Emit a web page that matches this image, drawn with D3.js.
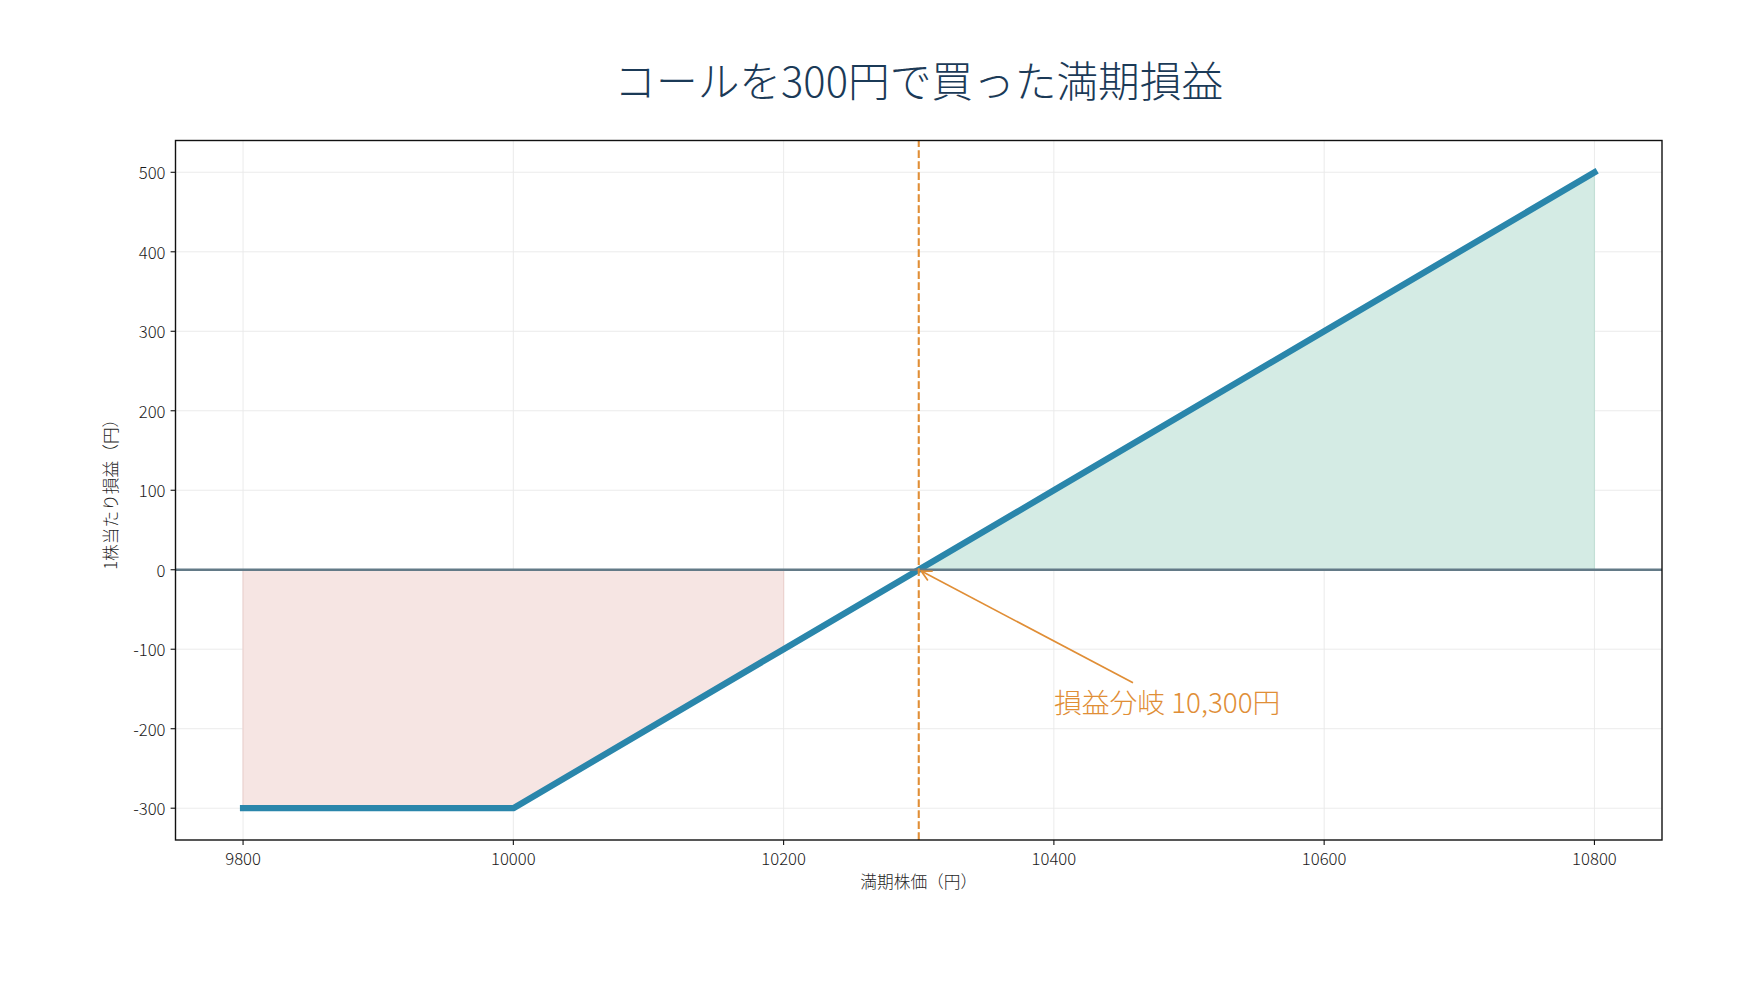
<!DOCTYPE html>
<html>
<head>
<meta charset="utf-8">
<script src="https://cdn.jsdelivr.net/npm/d3@7"></script>
<style>
  html, body { margin: 0; padding: 0; background: #fff; }
  svg { display: block; font-family: "Noto Sans CJK JP", "Noto Sans", sans-serif; font-weight: 300; }
</style>
</head>
<body>
<svg id="chart" width="1750" height="1000"></svg>
<script>
// ---- data ----
const prices = [9800, 10000, 10200, 10400, 10600, 10800];
const pnl = [-300, -300, -100, 100, 300, 500];
const lossPrices = [9800, 10000, 10200];
const lossValues = [-300, -300, -100];
const profitPrices = [10300, 10800];
const profitValues = [0, 500];
const breakEven = 10300;
const xTicks = [9800, 10000, 10200, 10400, 10600, 10800];
const yTicks = [-300, -200, -100, 0, 100, 200, 300, 400, 500];
const titleText = "コールを300円で買った満期損益";
const xLabelText = "満期株価（円）";
const yLabelText = "1株当たり損益（円）";
const annoText = "損益分岐 10,300円";
const annoPos = [10400, -180];

// ---- layout ----
const L = 175.5, R = 1662, T = 140.5, B = 840;
const svg = d3.select("#chart");
const x = d3.scaleLinear().domain([9750, 10850]).range([L, R]);
const y = d3.scaleLinear().domain([-340, 540]).range([B, T]);

const orange = "#E08E36";
const blue = "#2A86AB";

// grid
const g = svg.append("g");
g.selectAll(".gx").data(xTicks).enter().append("line")
  .attr("x1", d => x(d)).attr("x2", d => x(d)).attr("y1", T).attr("y2", B)
  .attr("stroke", "#e9e9e9").attr("stroke-width", 0.9);
g.selectAll(".gy").data(yTicks).enter().append("line")
  .attr("x1", L).attr("x2", R).attr("y1", d => y(d)).attr("y2", d => y(d))
  .attr("stroke", "#e9e9e9").attr("stroke-width", 0.9);

// fills
const lossPts = [[lossPrices[0], 0]].concat(lossPrices.map((p, i) => [p, lossValues[i]])).concat([[lossPrices[lossPrices.length - 1], 0]]);
svg.append("path")
  .attr("d", d3.line().x(d => x(d[0])).y(d => y(d[1]))(lossPts) + "Z")
  .attr("fill", "#f6e5e3").attr("stroke", "#ecd3d0").attr("stroke-width", 1.2);
const profPts = profitPrices.map((p, i) => [p, profitValues[i]]).concat([[profitPrices[profitPrices.length - 1], 0]]);
svg.append("path")
  .attr("d", d3.line().x(d => x(d[0])).y(d => y(d[1]))(profPts) + "Z")
  .attr("fill", "#d4ebe4").attr("stroke", "#c3dfd6").attr("stroke-width", 1.2);

// payoff line
svg.append("path")
  .attr("d", d3.line().x((d, i) => x(prices[i])).y((d, i) => y(pnl[i]))(prices))
  .attr("fill", "none").attr("stroke", blue).attr("stroke-width", 6.3)
  .attr("stroke-linecap", "square").attr("stroke-linejoin", "round");

// zero line
svg.append("line").attr("x1", L).attr("x2", R).attr("y1", y(0)).attr("y2", y(0))
  .attr("stroke", "#637A87").attr("stroke-width", 2.5);

// break-even dashed line
svg.append("line").attr("x1", x(breakEven)).attr("x2", x(breakEven)).attr("y1", B).attr("y2", T)
  .attr("stroke", orange).attr("stroke-width", 2.1).attr("stroke-dasharray", "7.7,3.3");

// frame
svg.append("rect").attr("x", L).attr("y", T).attr("width", R - L).attr("height", B - T)
  .attr("fill", "none").attr("stroke", "#111").attr("stroke-width", 1.4);

// axes ticks
const xAxis = svg.append("g");
xTicks.forEach(t => {
  xAxis.append("line").attr("x1", x(t)).attr("x2", x(t)).attr("y1", B).attr("y2", B + 4.9)
    .attr("stroke", "#111").attr("stroke-width", 1.1);
  xAxis.append("text").attr("x", x(t)).attr("y", 865).attr("text-anchor", "middle")
    .attr("font-size", 16.7).attr("fill", "#1a1a1a").text(t);
});
const yAxis = svg.append("g");
yTicks.forEach(t => {
  yAxis.append("line").attr("x1", L - 4.9).attr("x2", L).attr("y1", y(t)).attr("y2", y(t))
    .attr("stroke", "#111").attr("stroke-width", 1.1);
  yAxis.append("text").attr("x", 165.5).attr("y", y(t)).attr("text-anchor", "end")
    .attr("dominant-baseline", "central")
    .attr("font-size", 16.7).attr("fill", "#1a1a1a").text(t);
});

// labels
svg.append("text").attr("x", (L + R) / 2).attr("y", 888).attr("text-anchor", "middle")
  .attr("font-size", 16.7).attr("fill", "#262626").text(xLabelText);
svg.append("text").attr("transform", `translate(110,${(T + B) / 2}) rotate(-90)`)
  .attr("text-anchor", "middle").attr("dominant-baseline", "central")
  .attr("font-size", 16.7).attr("fill", "#262626").text(yLabelText);

// title
svg.append("text").attr("x", (L + R) / 2).attr("y", 97).attr("text-anchor", "middle")
  .attr("font-size", 41.7).attr("fill", "#1B3A57").text(titleText);

// annotation
const at = svg.append("text").attr("x", x(annoPos[0])).attr("y", y(annoPos[1]))
  .attr("font-size", 27.8).attr("fill", orange).text(annoText);
const bb = at.node().getBBox();
const cx = bb.x + bb.width / 2, cy = bb.y + bb.height / 2;
const tx = x(breakEven), ty = y(0);
const topY = bb.y + 2;
const tt = (cy - topY) / (cy - ty);
const sx = cx + (tx - cx) * tt, sy = topY;
const ang = Math.atan2(ty - sy, tx - sx);
const shrink = 2.8;
const hx = tx - shrink * Math.cos(ang), hy = ty - shrink * Math.sin(ang);
svg.append("line").attr("x1", sx).attr("y1", sy).attr("x2", hx).attr("y2", hy)
  .attr("stroke", orange).attr("stroke-width", 1.7);
const hl = 11.5, hw = 0.47;
const wing = s => [hx - hl * Math.cos(ang + s * hw), hy - hl * Math.sin(ang + s * hw)];
const w1 = wing(1), w2 = wing(-1);
svg.append("path").attr("d", `M${w1[0]},${w1[1]}L${hx},${hy}L${w2[0]},${w2[1]}`)
  .attr("fill", "none").attr("stroke", orange).attr("stroke-width", 1.7);
</script>
</body>
</html>
